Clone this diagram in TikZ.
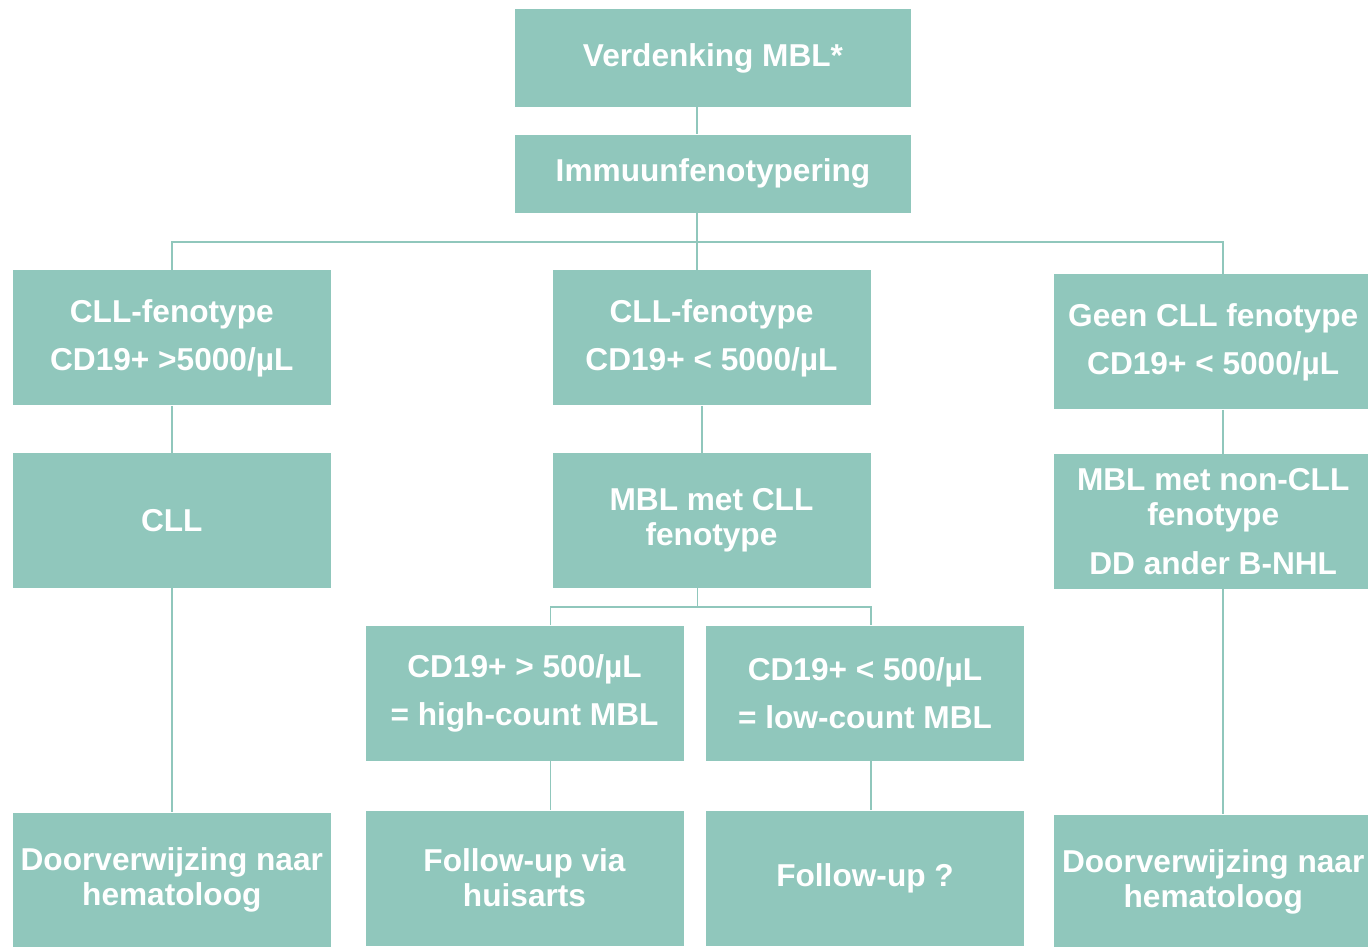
\documentclass[tikz,border=0pt]{standalone}
\usepackage{fontspec}
\setmainfont{Liberation Sans}
\usetikzlibrary{positioning}
\definecolor{mblgreen}{HTML}{90C7BC}
\tikzset{
  box/.style = {rectangle, fill=mblgreen, text=white,
    font=\bfseries\fontsize{18}{20}\selectfont, align=center,
    minimum width=6.36cm, minimum height=2.7cm, inner sep=0pt},
  link/.style = {draw=mblgreen, line width=1.1pt},
  node distance = 0.98cm,
}

\begin{document}
\begin{tikzpicture}
    \useasboundingbox (0,0) rectangle (27.36,-18.94);
    % top of the tree
    \node [box, minimum width=7.92cm, minimum height=1.96cm] (verd) at (14.26,-1.16) {Verdenking MBL*};
    \node [box, minimum width=7.92cm, minimum height=1.56cm, below=0.54cm of verd] (immuun) {Immuunfenotypering};
    % second row
    \node [box, below=1.14cm of immuun, xshift=-0.03cm] (cllhoog) {CLL-fenotype\\[7.4pt]CD19+ < 5000/µL};
    \node [box, left=4.42cm of cllhoog] (clllinks) {CLL-fenotype\\[7.4pt]CD19+ >5000/µL};
    \node [box, right=3.66cm of cllhoog, yshift=-0.08cm] (geencll) {Geen CLL fenotype\\[7.4pt]CD19+ < 5000/µL};
    % third row
    \node [box, below=0.94cm of clllinks] (cll) {CLL};
    \node [box, below=0.94cm of cllhoog] (mblcll) {MBL met CLL\\fenotype};
    \node [box, below=0.88cm of geencll] (mblnon) {MBL met non-CLL\\fenotype\\[7.4pt]DD ander B-NHL};
    % fourth row
    \node [box, below=0.74cm of mblcll, xshift=-3.74cm] (high) {CD19+ > 500/µL\\[7.4pt]= high-count MBL};
    \node [box, below=0.74cm of mblcll, xshift=3.07cm] (low) {CD19+ < 500/µL\\[7.4pt]= low-count MBL};
    % last row
    \node [box, below=4.48cm of cll] (verwlinks) {Doorverwijzing naar\\hematoloog};
    \node [box, below=0.98cm of high] (fuhuis) {Follow-up via\\huisarts};
    \node [box, below=0.98cm of low] (fuvraag) {Follow-up ?};
    \node [box, below=4.5cm of mblnon] (verwrechts) {Doorverwijzing naar\\hematoloog};

    \draw [link] ([xshift=-0.32cm]verd.south) -- ([xshift=-0.32cm]immuun.north);
    \draw [link] ([xshift=-0.32cm]immuun.south) -- ++(0,-0.58) coordinate (split);
    \draw [link] (clllinks.north) |- (split) -| ([xshift=0.2cm]geencll.north);
    \draw [link] (split) -- (split |- cllhoog.north);
    \draw [link] (clllinks) -- (cll);
    \draw [link] ([xshift=-0.19cm]cllhoog.south) -- ([xshift=-0.19cm]mblcll.north);
    \draw [link] ([xshift=0.2cm]geencll.south) -- ([xshift=0.2cm]mblnon.north);
    \draw [link] ([xshift=-0.28cm]mblcll.south) -- ++(0,-0.38) coordinate (split2);
    \draw [link] ([xshift=0.52cm]high.north) |- (split2) -| ([xshift=0.12cm]low.north);
    \draw [link] (cll) -- (verwlinks);
    \draw [link] ([xshift=0.52cm]high.south) -- ([xshift=0.52cm]fuhuis.north);
    \draw [link] ([xshift=0.12cm]low.south) -- ([xshift=0.12cm]fuvraag.north);
    \draw [link] ([xshift=0.2cm]mblnon.south) -- ([xshift=0.2cm]verwrechts.north);
\end{tikzpicture}
\end{document}
